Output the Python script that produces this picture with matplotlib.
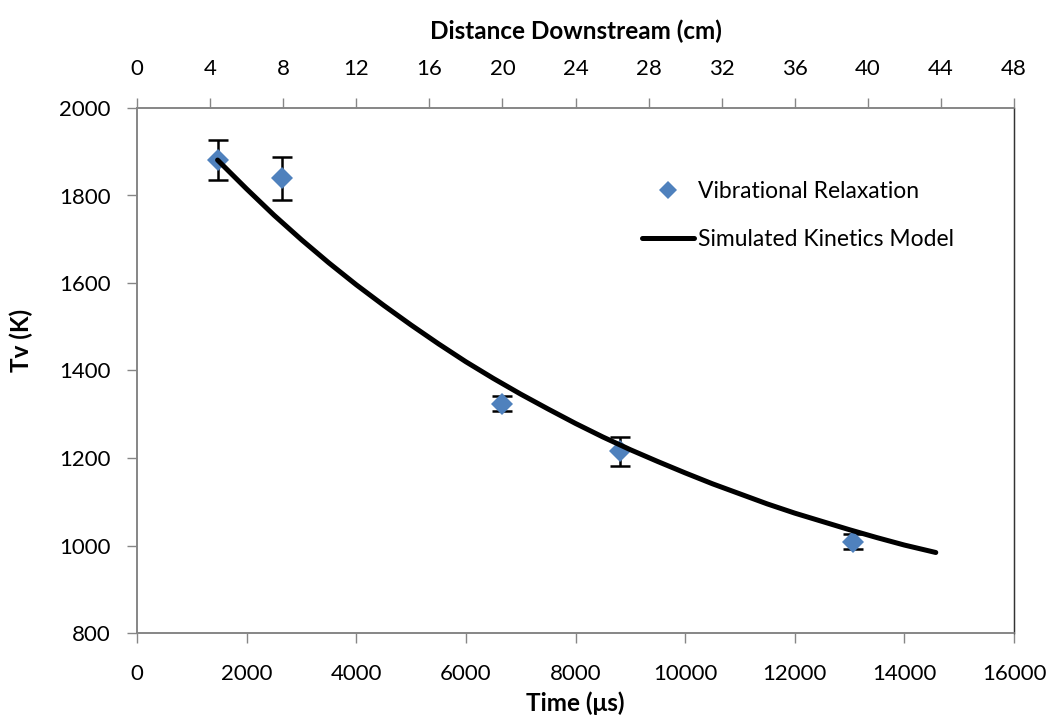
import matplotlib
matplotlib.use("Agg")
import matplotlib.pyplot as plt

plt.rcParams['font.family'] = ['Lato', 'DejaVu Sans']

# measured points
time_us = [1470, 2640, 6650, 8810, 13070]
tv_k = [1881, 1839, 1324, 1215, 1009]
tv_err = [46, 50, 17, 34, 18]

# simulated kinetics model
model_time = [1470, 2000, 2500, 3000, 3500, 4000, 4500, 5000, 5500, 6000,
              6500, 7000, 7500, 8000, 8500, 9000, 9500, 10000, 10500, 11000,
              11500, 12000, 12500, 13000, 13500, 14000, 14573]
model_tv = [1881, 1815, 1755, 1699, 1646, 1596, 1549, 1504, 1461, 1420,
            1382, 1346, 1312, 1279, 1248, 1219, 1192, 1166, 1141, 1118,
            1095, 1074, 1055, 1036, 1018, 1001, 984]

top_ticks = [0, 4, 8, 12, 16, 20, 24, 28, 32, 36, 40, 44, 48]
bottom_ticks = [0, 2000, 4000, 6000, 8000, 10000, 12000, 14000, 16000]
y_ticks = [800, 1000, 1200, 1400, 1600, 1800, 2000]

grey = '#868686'
blue = '#4F81BD'

fig = plt.figure(figsize=(10.51, 7.19), dpi=100)
ax = fig.add_axes([137 / 1051, 1 - 633 / 719, 877 / 1051, 525 / 719])

ax.errorbar(time_us, tv_k, yerr=tv_err, fmt='none', ecolor='black',
            elinewidth=1.8, capsize=7.5, capthick=1.8, zorder=2)
ax.plot(time_us, tv_k, linestyle='none', marker='D', markersize=11,
        color=blue, markeredgewidth=0, label='Vibrational Relaxation', zorder=3)
ax.plot(model_time, model_tv, color='black', linewidth=3.6,
        solid_capstyle='round', label='Simulated Kinetics Model', zorder=4)

ax.set_xlim(0, 16000)
ax.set_ylim(800, 2000)
ax.set_xticks(bottom_ticks)
ax.set_yticks(y_ticks)
ax.tick_params(axis='x', direction='out', length=7, width=1, color=grey,
               labelsize=16, pad=15)
ax.tick_params(axis='y', direction='out', length=7, width=1, color=grey,
               labelsize=16, pad=12)
for side in ['left', 'bottom', 'top']:
    ax.spines[side].set_color(grey)
    ax.spines[side].set_linewidth(1.2)
ax.spines['right'].set_color('#333333')
ax.spines['right'].set_linewidth(1)

ax.set_xlabel('Time (μs)', fontsize=17.5, fontweight='bold', labelpad=6)
ax.set_ylabel('Tv (K)', fontsize=17.5, fontweight='bold')
ax.yaxis.set_label_coords(-0.118, 0.558)

ax2 = ax.twiny()
ax2.set_xlim(0, 48)
ax2.set_xticks(top_ticks)
ax2.tick_params(axis='x', direction='out', length=7, width=1, color=grey,
                labelsize=16, pad=14)
for side in ['left', 'bottom', 'top']:
    ax2.spines[side].set_color(grey)
    ax2.spines[side].set_linewidth(1.2)
ax2.spines['right'].set_color('#333333')
ax2.set_xlabel('Distance Downstream (cm)', fontsize=17.5, fontweight='bold',
               labelpad=14)

ax.legend(loc='upper left', bbox_to_anchor=(0.552, 0.901), frameon=False,
          fontsize=16.5, handlelength=2.27, handletextpad=0.2,
          labelspacing=1.2, markerscale=0.85)

fig.savefig('out.png', dpi=100)
